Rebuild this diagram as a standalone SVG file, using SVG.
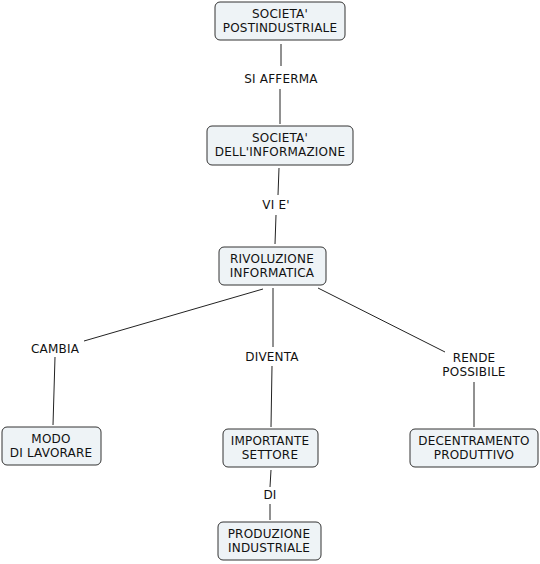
<svg xmlns="http://www.w3.org/2000/svg" width="540" height="564" viewBox="0 0 540 564">
<style>
.n rect{fill:#eef3f6;stroke:#333;stroke-width:1}
text{font-family:"DejaVu Sans",Verdana,sans-serif;font-size:12px;letter-spacing:0.2px;fill:#111;text-anchor:middle}
.c line{stroke:#222;stroke-width:1}
</style>
<rect width="540" height="564" fill="#fff"/>
<g class="c">
<line x1="281" y1="44" x2="281" y2="66"/>
<line x1="280" y1="89" x2="280" y2="124"/>
<line x1="279" y1="168" x2="278" y2="195"/>
<line x1="276" y1="215" x2="275" y2="244"/>
<line x1="263" y1="289" x2="84" y2="341"/>
<line x1="55" y1="357" x2="53" y2="425"/>
<line x1="273" y1="288" x2="273" y2="347"/>
<line x1="272" y1="366" x2="271" y2="427"/>
<line x1="318" y1="288" x2="445" y2="352"/>
<line x1="474" y1="382" x2="474" y2="427"/>
<line x1="271" y1="470" x2="270" y2="487"/>
<line x1="270" y1="504" x2="270" y2="520"/>
</g>
<g id="labels">
<text x="281" y="83">SI AFFERMA</text>
<text x="276" y="209">VI E'</text>
<text x="55" y="353">CAMBIA</text>
<text x="272" y="361">DIVENTA</text>
<text x="474" y="362">RENDE</text>
<text x="474" y="376">POSSIBILE</text>
<text x="270" y="499">DI</text>
</g>
<g class="n" id="n1"><rect x="215" y="2" width="130" height="38" rx="5"/><text x="280" y="18">SOCIETA'</text><text x="280" y="32">POSTINDUSTRIALE</text></g>
<g class="n" id="n2"><rect x="207" y="126" width="146" height="39" rx="5"/><text x="280" y="142">SOCIETA'</text><text x="280" y="156">DELL'INFORMAZIONE</text></g>
<g class="n" id="n3"><rect x="219" y="247" width="107" height="38" rx="5"/><text x="272" y="263">RIVOLUZIONE</text><text x="272" y="277">INFORMATICA</text></g>
<g class="n" id="n4"><rect x="2" y="427" width="99" height="38" rx="5"/><text x="51" y="443">MODO</text><text x="51" y="457">DI LAVORARE</text></g>
<g class="n" id="n5"><rect x="223" y="429" width="95" height="38" rx="5"/><text x="270" y="445">IMPORTANTE</text><text x="270" y="459">SETTORE</text></g>
<g class="n" id="n6"><rect x="410" y="429" width="128" height="38" rx="5"/><text x="474" y="445">DECENTRAMENTO</text><text x="474" y="459">PRODUTTIVO</text></g>
<g class="n" id="n7"><rect x="218" y="522" width="103" height="38" rx="5"/><text x="269" y="538">PRODUZIONE</text><text x="269" y="552">INDUSTRIALE</text></g>
</svg>
